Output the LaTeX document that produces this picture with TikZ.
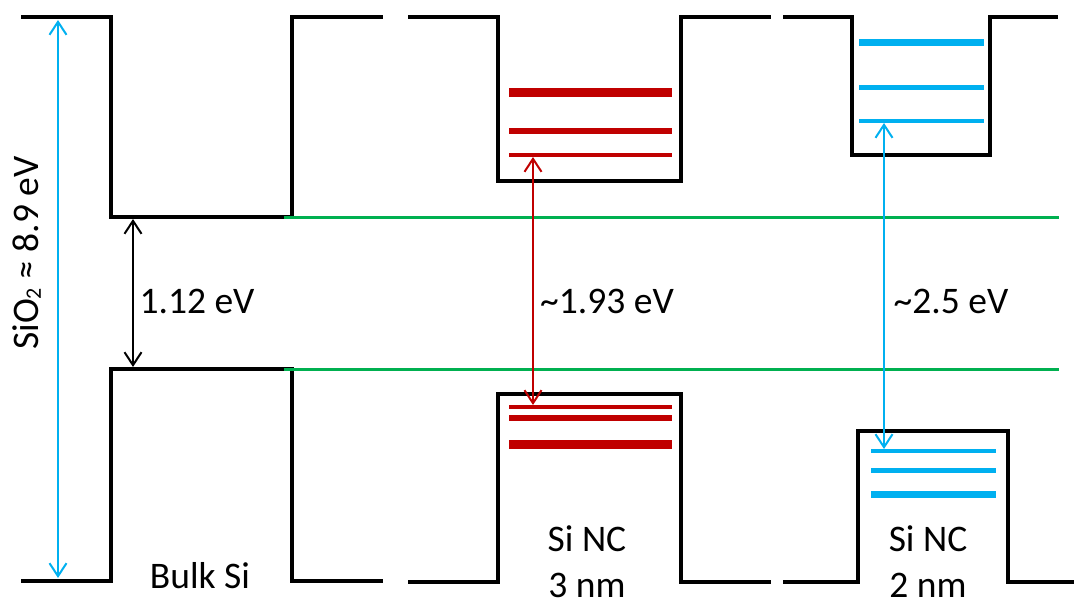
\documentclass[tikz,border=0pt]{standalone}
\usepackage{fontspec}
\setmainfont{Carlito}
\usetikzlibrary{arrows.meta}
\definecolor{cblue}{HTML}{00B0F0}
\definecolor{cred}{HTML}{C00000}
\definecolor{cgreen}{HTML}{00B050}
\tikzset{
  band/.style={line width=4pt, black},
  fermi/.style={line width=3pt, cgreen},
  gap/.style={line width=2pt, {Straight Barb[length=13pt,width=17pt,line width=2pt]}-{Straight Barb[length=13pt,width=17pt,line width=2pt]}},
  lbl/.style={font=\fontsize{37.5}{45}\selectfont, inner sep=0pt, anchor=base},
}
\begin{document}
\begin{tikzpicture}[x=1pt,y=-1pt]
\useasboundingbox (0,0) rectangle (1074,599);
% band edges
\draw[band] (21,17)--(111,17)--(111,217)--(292,217)--(292,17)--(383,17);
\draw[band] (21,581)--(111,581)--(111,369)--(292,369)--(292,581)--(383,581);
\draw[band] (408,17)--(498,17)--(498,181)--(681,181)--(681,17)--(771,17);
\draw[band] (408,582)--(498,582)--(498,394)--(681,394)--(681,582)--(771,582);
\draw[band] (783,17)--(852,17)--(852,155)--(990,155)--(990,17)--(1058,17);
\draw[band] (783,582)--(858,582)--(858,431)--(1008,431)--(1008,582)--(1074,582);
% green reference lines
\draw[fermi] (284,217)--(1059,217);
\draw[fermi] (284,369)--(1059,369);
% red levels (3 nm)
\draw[cred, line width=9pt] (509,93)--(672,93);
\draw[cred, line width=6pt] (509,131)--(672,131);
\draw[cred, line width=4pt] (509,155)--(672,155);
\draw[cred, line width=4pt] (509,407)--(672,407);
\draw[cred, line width=6pt] (509,418)--(672,418);
\draw[cred, line width=9pt] (509,444)--(672,444);
% blue levels (2 nm)
\draw[cblue, line width=7pt] (859,43)--(984,43);
\draw[cblue, line width=5pt] (859,88)--(984,88);
\draw[cblue, line width=4pt] (859,121)--(984,121);
\draw[cblue, line width=4pt] (871,451)--(996,451);
\draw[cblue, line width=5pt] (871,470)--(996,470);
\draw[cblue, line width=7pt] (871,494)--(996,494);
% arrow end points
\coordinate (oxT) at (58,20);
\coordinate (oxB) at (58,578);
\coordinate (siT) at (133,219);
\coordinate (siB) at (133,367);
\coordinate (n3T) at (533,157);
\coordinate (n3B) at (533,405);
\coordinate (n2T) at (884,123);
\coordinate (n2B) at (884,449);
\draw[gap, cblue] (oxT)--(oxB);
\draw[gap, black] (siT)--(siB);
\draw[gap, cred] (n3T)--(n3B);
\draw[gap, cblue] (n2T)--(n2B);
% labels
\node[lbl, anchor=center, rotate=90] (ox) at (27,253) {SiO{\fontsize{22}{22}\selectfont\raisebox{-2pt}{2}} ≈ 8.9 eV};
\node[lbl] (gsi) at (197,313) {1.12 eV};
\node[lbl] (g3) at (607,313) {\textasciitilde 1.93 eV};
\node[lbl] (g2) at (951,313) {\textasciitilde 2.5 eV};
\node[lbl] (bulk) at (200,588) {Bulk Si};
\node[lbl] (nc3a) at (587,551) {Si NC};
\node[lbl] (nc3b) at (587,597) {3 nm};
\node[lbl] (nc2a) at (928,551) {Si NC};
\node[lbl] (nc2b) at (928,597) {2 nm};
\end{tikzpicture}
\end{document}
